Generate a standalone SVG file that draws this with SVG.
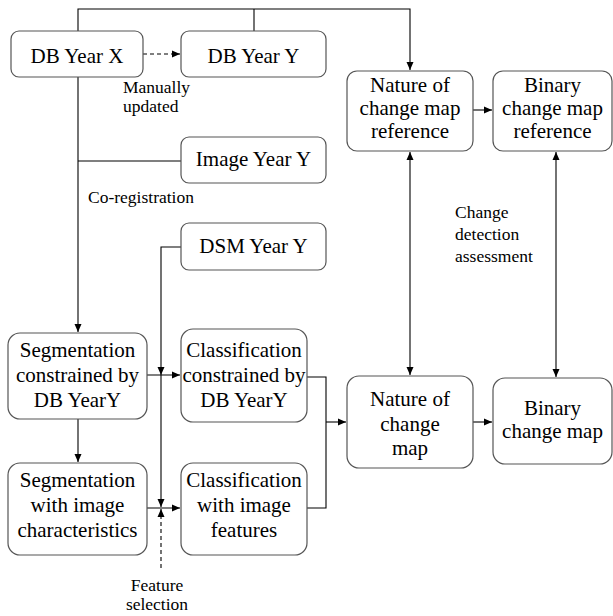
<svg xmlns="http://www.w3.org/2000/svg" width="613" height="616" viewBox="0 0 613 616" font-family="Liberation Serif, Times New Roman, DejaVu Serif, serif">
<defs>
<marker id="ah" viewBox="0 0 8 8" refX="8" refY="4" markerWidth="8" markerHeight="8" markerUnits="userSpaceOnUse" orient="auto-start-reverse">
<path d="M0,0.5 L8,4 L0,7.5 Z" fill="#000"/>
</marker>
<style>
.box{fill:#fff;stroke:#555;stroke-width:1.2}
.t{font-size:21px;fill:#000;text-anchor:middle}
.l{font-size:17.5px;fill:#000}
.c{fill:none;stroke:#000;stroke-width:1.1}
.d{stroke-dasharray:4,3}
</style>
</defs>
<rect width="613" height="616" fill="#fff"/>
<g id="connectors">
<polyline class="c" points="78,31 78,9 410,9 410,70" marker-end="url(#ah)"/>
<line class="c" x1="254" y1="9" x2="254" y2="31"/>
<line class="c d" x1="143" y1="54" x2="180" y2="54" marker-end="url(#ah)"/>
<line class="c" x1="78" y1="77" x2="78" y2="332" marker-end="url(#ah)"/>
<line class="c" x1="78" y1="161" x2="181" y2="161"/>
<polyline class="c" points="181,247 161,247 161,375" marker-end="url(#ah)"/>
<line class="c" x1="161" y1="375" x2="161" y2="507" marker-end="url(#ah)"/>
<line class="c d" x1="161" y1="568" x2="161" y2="509" marker-end="url(#ah)"/>
<line class="c" x1="147" y1="375" x2="180" y2="375" marker-end="url(#ah)"/>
<line class="c" x1="147" y1="508" x2="180" y2="508" marker-end="url(#ah)"/>
<line class="c" x1="78" y1="419" x2="78" y2="462" marker-end="url(#ah)"/>
<polyline class="c" points="307,377 326,377 326,508 307,508"/>
<line class="c" x1="326" y1="422" x2="346" y2="422" marker-end="url(#ah)"/>
<line class="c" x1="473" y1="422" x2="492" y2="422" marker-end="url(#ah)"/>
<line class="c" x1="473" y1="110" x2="492" y2="110" marker-end="url(#ah)"/>
<line class="c" x1="410" y1="152" x2="410" y2="375" marker-start="url(#ah)" marker-end="url(#ah)"/>
<line class="c" x1="556" y1="152" x2="556" y2="377" marker-start="url(#ah)" marker-end="url(#ah)"/>
</g>
<g id="dbx"><rect class="box" x="11" y="31" width="132" height="46" rx="8"/><text class="t" x="77" y="63">DB Year X</text></g>
<g id="dby"><rect class="box" x="181" y="31" width="145" height="46" rx="8"/><text class="t" x="253.5" y="63">DB Year Y</text></g>
<g id="img"><rect class="box" x="181" y="137" width="145" height="46" rx="8"/><text class="t" x="253.5" y="166">Image Year Y</text></g>
<g id="dsm"><rect class="box" x="181" y="223" width="145" height="47" rx="8"/><text class="t" x="253.5" y="253">DSM Year Y</text></g>
<g id="ncref"><rect class="box" x="347" y="71" width="126" height="80" rx="10"/><text class="t" x="410" y="92">Nature of</text><text class="t" x="410" y="115">change map</text><text class="t" x="410" y="138">reference</text></g>
<g id="bcref"><rect class="box" x="493" y="71" width="119" height="80" rx="10"/><text class="t" x="552.5" y="92">Binary</text><text class="t" x="552.5" y="115">change map</text><text class="t" x="552.5" y="138">reference</text></g>
<g id="segc"><rect class="box" x="8" y="333" width="139" height="86" rx="12"/><text class="t" x="77.5" y="357">Segmentation</text><text class="t" x="77.5" y="382">constrained by</text><text class="t" x="77.5" y="407">DB YearY</text></g>
<g id="clsc"><rect class="box" x="181" y="329" width="126" height="93" rx="12"/><text class="t" x="244" y="357">Classification</text><text class="t" x="244" y="382">constrained by</text><text class="t" x="244" y="407">DB YearY</text></g>
<g id="segi"><rect class="box" x="8" y="463" width="139" height="92" rx="12"/><text class="t" x="77.5" y="487">Segmentation</text><text class="t" x="77.5" y="512">with image</text><text class="t" x="77.5" y="537">characteristics</text></g>
<g id="clsi"><rect class="box" x="181" y="463" width="126" height="92" rx="12"/><text class="t" x="244" y="487">Classification</text><text class="t" x="244" y="512">with image</text><text class="t" x="244" y="537">features</text></g>
<g id="ncm"><rect class="box" x="347" y="376" width="126" height="92" rx="12"/><text class="t" x="410" y="406">Nature of</text><text class="t" x="410" y="431">change</text><text class="t" x="410" y="455">map</text></g>
<g id="bcm"><rect class="box" x="493" y="378" width="119" height="86" rx="12"/><text class="t" x="552.5" y="415">Binary</text><text class="t" x="552.5" y="438">change map</text></g>
<g id="labels">
<text class="l" x="123" y="93">Manually</text>
<text class="l" x="123" y="112">updated</text>
<text class="l" x="88" y="203">Co-registration</text>
<text class="l" x="455" y="218">Change</text>
<text class="l" x="455" y="240">detection</text>
<text class="l" x="455" y="262">assessment</text>
<text class="l" x="157" y="591" text-anchor="middle">Feature</text>
<text class="l" x="157" y="610" text-anchor="middle">selection</text>
</g>
</svg>
